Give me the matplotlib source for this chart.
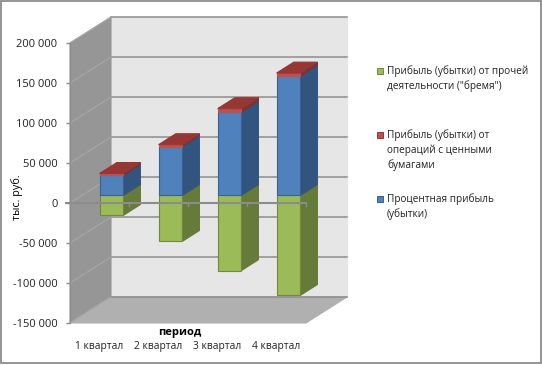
import matplotlib
matplotlib.use('Agg')
import matplotlib.pyplot as plt
from matplotlib.patches import Polygon, Rectangle

plt.rcParams['font.family'] = ['Open Sans', 'DejaVu Sans']

# Values
quarters = ['1 квартал', '2 квартал', '3 квартал', '4 квартал']
other_profit = [-25000, -57500, -94000, -125000]
interest_profit = [25000, 61000, 104000, 149000]
securities_profit = [2500, 2500, 4500, 4000]

y_ticks = [-150000, -100000, -50000, 0, 50000, 100000, 150000, 200000]
y_labels = ['-150 000', '-100 000', '-50 000', '0', '50 000', '100 000', '150 000', '200 000']
legend_labels = [
    'Прибыль (убытки) от прочей\nдеятельности ("бремя")',
    'Прибыль (убытки) от\nопераций с ценными\nбумагами',
    'Процентная прибыль\n(убытки)',
]

W, H = 542, 365
GRID = '#8c8c8c'

# Fake 3D: depth runs from 0 (front) to 1 (back wall)
DX = 0.695
DY = 32500
BAR_D0, BAR_D1 = 0.29, 0.71
BAR_W = 0.2


def pt(x, y, d):
    return (x + d * DX, y + d * DY)


fig = plt.figure(figsize=(W / 100, H / 100), dpi=100)
ax = fig.add_axes([70 / W, (H - 323) / H, 236 / W, 280 / H])
ax.set_xlim(-0.5, 3.5)
ax.set_ylim(-150000, 200000)
ax.patch.set_visible(False)

y0, y1 = y_ticks[0], y_ticks[-1]
x0, x1 = -0.5, 3.5


def face(points, color, edge=None, z=1, lw=0.8):
    ax.add_patch(Polygon(points, closed=True, facecolor=color, edgecolor=edge or color,
                         linewidth=lw, zorder=z, clip_on=False))


# walls and floor
face([pt(x0, y0, 1), pt(x1, y0, 1), pt(x1, y1, 1), pt(x0, y1, 1)], '#e6e6e6', z=1)
face([pt(x0, y0, 0), pt(x0, y0, 1), pt(x0, y1, 1), pt(x0, y1, 0)], '#969696', z=1)
face([pt(x0, y0, 0), pt(x1, y0, 0), pt(x1, y0, 1), pt(x0, y0, 1)], '#b0b0b0', z=1)

# gridlines on the back wall and the left wall
for t in y_ticks:
    ax.plot([x0 + DX, x1 + DX], [t + DY, t + DY], color=GRID, lw=1.1, zorder=2, clip_on=False)
    ax.plot([x0, x0 + DX], [t, t + DY], color='#a8a8a8', lw=0.7, zorder=2, clip_on=False)


def box(i, low, high, front, side, edge, z):
    l, r = i - BAR_W, i + BAR_W
    face([pt(r, low, BAR_D0), pt(r, low, BAR_D1), pt(r, high, BAR_D1), pt(r, high, BAR_D0)], side, z=z)
    face([pt(l, low, BAR_D0), pt(r, low, BAR_D0), pt(r, high, BAR_D0), pt(l, high, BAR_D0)], front, edge, z=z + 0.1)


def top(i, high, color, z):
    l, r = i - BAR_W, i + BAR_W
    face([pt(l, high, BAR_D0), pt(r, high, BAR_D0), pt(r, high, BAR_D1), pt(l, high, BAR_D1)], color, z=z)


for i in range(len(quarters)):
    z = 3 + i
    box(i, other_profit[i], 0, '#9bbb59', '#667a3a', '#71893f', z)
    box(i, 0, interest_profit[i], '#4f81bd', '#325580', '#3a6190', z + 0.2)
    stack_top = interest_profit[i] + securities_profit[i]
    box(i, interest_profit[i], stack_top, '#c0504d', '#7c3230', '#c0504d', z + 0.4)
    top(i, stack_top, '#953735', z + 0.6)

# zero axis runs over the bars, with small ticks between the categories
ax.plot([x0 - 0.07, x1], [0, 0], color=GRID, lw=1.5, zorder=10, clip_on=False)
for k in range(1, 5):
    ax.plot([x0 + k, x0 + k], [0, -3500], color=GRID, lw=1, zorder=10, clip_on=False)

for name in ['top', 'right', 'bottom']:
    ax.spines[name].set_visible(False)
ax.spines['left'].set_color(GRID)
ax.spines['left'].set_zorder(6)
ax.set_yticks(y_ticks)
ax.set_yticklabels(y_labels, fontsize=8, color='#222222')
ax.tick_params(axis='y', length=3, width=1, color=GRID, pad=6)
ax.set_xticks(range(len(quarters)))
ax.set_xticklabels(quarters, fontsize=7.4, color='#222222')
ax.tick_params(axis='x', length=0, pad=13)
ax.set_xlabel('период', fontsize=8, fontweight='bold')
ax.xaxis.set_label_coords(110 / 236, -10 / 280, transform=ax.transAxes)
ax.xaxis.label.set_verticalalignment('center')
ax.set_ylabel('тыс. руб.', fontsize=7.8)
ax.yaxis.set_label_coords(-53 / 236, 126 / 280)
ax.yaxis.label.set_verticalalignment('center')

# legend, laid out by hand since the gaps are uneven
legend_colors = ['#9bbb59', '#c0504d', '#4f81bd']
legend_edges = ['#71893f', '#8c3a38', '#3a6190']
legend_y = [71, 135, 199]
for label, color, edge, ly in zip(legend_labels, legend_colors, legend_edges, legend_y):
    fig.add_artist(Rectangle((377 / W, (H - ly - 3) / H), 6 / W, 6 / H, facecolor=color,
                             edgecolor=edge, linewidth=0.7, transform=fig.transFigure))
    fig.text(387 / W, (H - ly + 6) / H, label, fontsize=7.2, color='#222222', va='top', linespacing=1.42)

# outer frame
fig.add_artist(Rectangle((1.2 / W, 1.8 / H), 539.3 / W, 362.6 / H, facecolor='none', edgecolor='#8c8c8c',
                         linewidth=1.3, transform=fig.transFigure))

fig.savefig('out.png', dpi=100, facecolor='white')
